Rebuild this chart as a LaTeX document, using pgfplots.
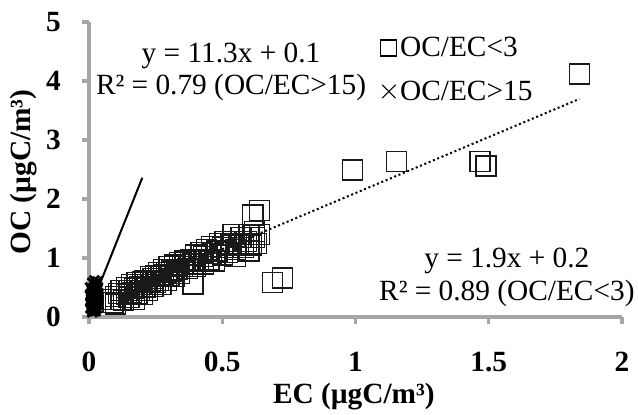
\documentclass[border=0pt]{standalone}
\usepackage{fontspec}
\setmainfont{Liberation Serif}
\usepackage{pgfplots}
\pgfplotsset{compat=1.18}
\definecolor{axisgray}{HTML}{A6A6A6}

\begin{document}
\begin{tikzpicture}
\useasboundingbox (-66.75pt,-72.75pt) rectangle (411.75pt,237.75pt);
\begin{axis}[
  at={(0pt,0pt)}, anchor=south west,
  scale only axis, width=399.75pt, height=221.25pt,
  xmin=0, xmax=2, ymin=0, ymax=5,
  axis x line*=bottom, axis y line*=left,
  axis line style={axisgray, line width=2.5pt},
  tick style={axisgray, line width=2.5pt},
  major tick length=5pt, tick align=outside,
  xtick={0,0.5,1,1.5,2}, ytick={0,1,2,3,4,5},
  /pgf/number format/assume math mode=true,
  tick label style={font=\fontsize{22}{22}\selectfont\bfseries, black, inner sep=0pt},
  xticklabel style={anchor=north, yshift=-21pt},
  yticklabel style={anchor=east, xshift=-16pt},
  xlabel={EC (µgC/m³)}, ylabel={OC (µgC/m³)},
  label style={font=\fontsize{22}{22}\selectfont\bfseries},
  xlabel style={at={(axis description cs:0.497,-0.268)}, anchor=center},
  ylabel style={at={(axis description cs:-0.1230,0.4915)}, anchor=center},
  clip=false,
  legend cell align=left,
  legend style={draw=none, fill=none, at={(axis description cs:0.546,0.958)}, anchor=north west,
    font=\fontsize{22}{22}\selectfont, row sep=12.5pt, inner sep=0pt,
    nodes={inner sep=2pt}},
]
% OC/EC<3
\addplot[only marks, mark=square, mark size=7.5pt, black!90, mark options={line width=0.9pt},
  legend image code/.code={\draw[black, line width=0.9pt] (0pt,-6pt) rectangle (12pt,6pt);}]
coordinates {
(0.08,0.30) (0.09,0.25) (0.10,0.35) (0.10,0.22) (0.11,0.40) (0.12,0.30) (0.12,0.45)
(0.13,0.28) (0.14,0.38) (0.14,0.50) (0.15,0.33) (0.15,0.45) (0.16,0.42) (0.16,0.55)
(0.17,0.30) (0.17,0.48) (0.18,0.40) (0.18,0.58) (0.19,0.45) (0.19,0.52) (0.20,0.38)
(0.20,0.60) (0.21,0.50) (0.21,0.62) (0.22,0.45) (0.22,0.55) (0.23,0.60) (0.23,0.68)
(0.24,0.52) (0.24,0.65) (0.25,0.58) (0.25,0.70) (0.26,0.62) (0.26,0.75) (0.27,0.55)
(0.27,0.68) (0.28,0.72) (0.28,0.80) (0.29,0.62) (0.29,0.76) (0.30,0.70) (0.30,0.85)
(0.31,0.78) (0.32,0.68) (0.32,0.88) (0.33,0.80) (0.34,0.74) (0.34,0.92) (0.35,0.85)
(0.36,0.95) (0.37,0.82) (0.38,0.98) (0.39,0.56) (0.39,0.90) (0.40,1.05) (0.40,0.85)
(0.41,0.95) (0.42,1.10) (0.43,0.90) (0.43,1.02) (0.44,1.15) (0.45,0.98) (0.46,1.08)
(0.46,1.20) (0.47,0.95) (0.48,1.12) (0.49,1.25) (0.50,1.05) (0.50,1.18) (0.51,1.28)
(0.52,1.10) (0.53,1.22) (0.54,1.40) (0.55,1.15) (0.55,1.02) (0.56,1.25) (0.57,1.35)
(0.58,1.18) (0.59,1.28) (0.60,1.40) (0.60,1.12) (0.61,1.22) (0.62,1.35) (0.62,1.45)
(0.63,1.25) (0.64,1.40) (0.615,1.73) (0.64,1.81) (0.69,0.59) (0.725,0.66)
(0.99,2.49) (1.155,2.63) (1.467,2.63) (1.49,2.56) (1.84,4.12)
};
\addlegendentry{OC/EC<3}
% OC/EC>15
\addplot[only marks, mark=x, mark size=5pt, black, mark options={line width=2pt},
  legend image code/.code={\draw[black, line width=0.8pt] (1pt,-5pt)--(11pt,5pt) (1pt,5pt)--(11pt,-5pt);}]
coordinates {
(0.005,0.15) (0.008,0.30) (0.010,0.20) (0.010,0.45) (0.012,0.12) (0.015,0.35)
(0.015,0.25) (0.018,0.50) (0.020,0.15) (0.020,0.40) (0.022,0.30) (0.025,0.20)
(0.025,0.55) (0.028,0.35) (0.030,0.25) (0.030,0.45) (0.032,0.60) (0.035,0.30)
(0.030,0.40) (0.034,0.50) (0.005,0.35) (0.012,0.08) (0.020,0.10) (0.030,0.15)
(0.012,0.58) (0.035,0.22) (0.006,0.25) (0.008,0.40) (0.014,0.18) (0.016,0.28)
(0.018,0.38) (0.022,0.22) (0.024,0.42) (0.026,0.32) (0.028,0.15) (0.033,0.38)
(0.036,0.40) (0.020,0.62) (0.026,0.50) (0.004,0.50) (0.010,0.32) (0.020,0.30)
(0.015,0.45) (0.025,0.10) (0.030,0.30) (0.018,0.22)
};
\addlegendentry{OC/EC>15}
% trend lines
\addplot[black, line width=1.5pt, dotted, forget plot] coordinates {(0.08,0.352) (1.84,3.696)};
\addplot[black, line width=1.5pt, forget plot] coordinates {(0.0,0.1) (0.2,2.36)};
\path[font=\fontsize{22}{22}\selectfont]
  (axis cs:0.533,4.322) node[anchor=base] {y = 11.3x + 0.1}
  (axis cs:0.533,3.763) node[anchor=base] {R² = 0.79 (OC/EC>15)}
  (axis cs:1.568,0.847) node[anchor=base] {y = 1.9x + 0.2}
  (axis cs:1.568,0.288) node[anchor=base] {R² = 0.89 (OC/EC<3)};
\end{axis}
\end{tikzpicture}
\end{document}
